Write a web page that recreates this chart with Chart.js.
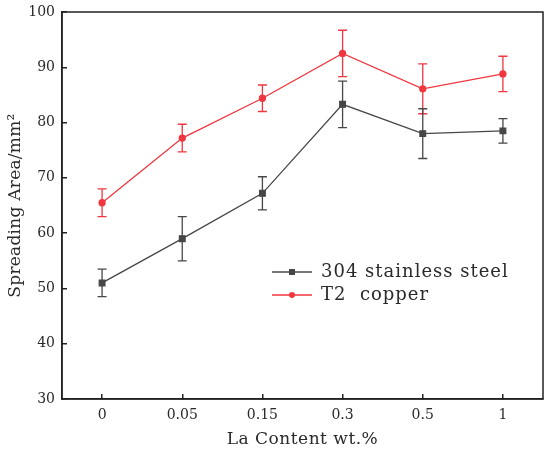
<!DOCTYPE html>
<html><head><meta charset="utf-8">
<script src="https://cdn.jsdelivr.net/npm/chart.js@4"></script>
<style>html,body{margin:0;padding:0;background:#fff;}</style>
</head><body>
<canvas id="c" width="550" height="456" style="width:550px;height:456px;display:block"></canvas>
<script>
const categories = ['0', '0.05', '0.15', '0.3', '0.5', '1'];
const steelValues = [51.0, 59.0, 67.2, 83.3, 78.0, 78.5];
const steelErrors = [2.5, 4.0, 3.0, 4.2, 4.5, 2.2];
const copperValues = [65.5, 77.2, 84.4, 92.5, 86.1, 88.8];
const copperErrors = [2.5, 2.5, 2.4, 4.2, 4.5, 3.2];
const yTicks = [30, 40, 50, 60, 70, 80, 90, 100];
const seriesLabels = ['304 stainless steel', 'T2  copper'];

const GRAY = '#474747';
const RED = '#f2363f';
const TEXT = '#2a2a2a';
const FONT = "'DejaVu Serif', serif";

function makeIcon(color, shape) {
  const c = document.createElement('canvas');
  c.width = 40; c.height = 10;
  const g = c.getContext('2d');
  g.strokeStyle = color; g.lineWidth = 1.3;
  g.beginPath(); g.moveTo(0, 5); g.lineTo(40, 5); g.stroke();
  g.fillStyle = color;
  if (shape === 'rect') { g.fillRect(17, 2, 6, 6); }
  else { g.beginPath(); g.arc(20, 5, 3, 0, Math.PI * 2); g.fill(); }
  return c;
}
const legendIcons = [makeIcon(GRAY, 'rect'), makeIcon(RED, 'circle')];

function spaced(obj, method, spacing) {
  if (obj['_sp_' + method]) return;
  const orig = obj[method];
  obj[method] = function () {
    const ctx = this.ctx;
    const prev = ctx.letterSpacing;
    ctx.letterSpacing = spacing;
    const r = orig.apply(this, arguments);
    ctx.letterSpacing = prev || '0px';
    return r;
  };
  obj['_sp_' + method] = true;
}

const errorBars = {
  id: 'errorBars',
  afterDatasetDraw(chart, args) {
    const ds = chart.data.datasets[args.index];
    const errs = ds.errors;
    if (!errs) return;
    const y = chart.scales.y;
    const ctx = chart.ctx;
    ctx.save();
    ctx.strokeStyle = ds.borderColor;
    ctx.lineWidth = 1.3;
    args.meta.data.forEach((pt, i) => {
      const v = ds.data[i];
      const yt = y.getPixelForValue(v + errs[i]);
      const yb = y.getPixelForValue(v - errs[i]);
      const x = pt.x;
      ctx.beginPath();
      ctx.moveTo(x, yt); ctx.lineTo(x, yb);
      ctx.moveTo(x - 4.5, yt); ctx.lineTo(x + 4.5, yt);
      ctx.moveTo(x - 4.5, yb); ctx.lineTo(x + 4.5, yb);
      ctx.stroke();
    });
    ctx.restore();
  }
};

const frame = {
  id: 'frame',
  afterDraw(chart) {
    const a = chart.chartArea, ctx = chart.ctx;
    ctx.save();
    ctx.strokeStyle = '#222';
    ctx.lineWidth = 1.5;
    ctx.strokeRect(a.left, a.top, a.right - a.left, a.bottom - a.top);
    ctx.restore();
  }
};

const legendPlace = {
  id: 'legendPlace',
  afterLayout(chart) {
    const lg = chart.legend;
    if (!lg) return;
    const a = chart.chartArea;
    const p = lg.options.labels.padding;
    const fs = lg.options.labels.font.size;
    lg.left = a.left + 210 - p;
    lg.top = a.top + 260 - fs / 2 - p;
    spaced(lg, 'draw', '1px');
    spaced(chart.scales.x, 'drawTitle', '0.5px');
    spaced(chart.scales.y, 'drawTitle', '0.25px');
  }
};

new Chart(document.getElementById('c'), {
  type: 'line',
  data: {
    labels: categories,
    datasets: [
      {
        label: seriesLabels[0], data: steelValues, errors: steelErrors,
        borderColor: GRAY, backgroundColor: GRAY, borderWidth: 1.3,
        pointStyle: 'rect', pointRadius: 4, pointHoverRadius: 4, tension: 0
      },
      {
        label: seriesLabels[1], data: copperValues, errors: copperErrors,
        borderColor: RED, backgroundColor: RED, borderWidth: 1.3,
        pointStyle: 'circle', pointRadius: 3, pointHoverRadius: 3, tension: 0
      }
    ]
  },
  options: {
    responsive: false,
    animation: false,
    devicePixelRatio: 1,
    layout: { padding: { top: 12, right: 7, left: 0, bottom: 0 } },
    plugins: {
      tooltip: { enabled: false },
      legend: {
        position: 'chartArea',
        align: 'start',
        labels: {
          usePointStyle: true,
          pointStyleWidth: 40,
          padding: 5,
          color: TEXT,
          font: { family: FONT, size: 18 },
          generateLabels: chart => chart.data.datasets.map((ds, i) => ({
            text: ds.label, pointStyle: legendIcons[i], fillStyle: ds.borderColor,
            strokeStyle: ds.borderColor, lineWidth: 0, hidden: false, datasetIndex: i, fontColor: TEXT
          }))
        }
      }
    },
    scales: {
      x: {
        type: 'category',
        offset: true,
        grid: { offset: false, drawOnChartArea: false, drawTicks: true, tickLength: -5, color: '#222', lineWidth: 1.5 },
        border: { color: '#222', width: 1.5 },
        ticks: { color: TEXT, font: { family: FONT, size: 14 }, padding: 13 },
        title: { display: true, text: 'La Content wt.%', color: TEXT, font: { family: FONT, size: 17 }, padding: { top: 0, bottom: 6 } },
        afterFit: s => { s.height = 57; s.paddingLeft = 0; s.paddingRight = 0; }
      },
      y: {
        min: 30, max: 100,
        afterBuildTicks: s => { s.ticks = yTicks.map(v => ({ value: v })); },
        grid: { drawOnChartArea: false, drawTicks: true, tickLength: -5, color: '#222', lineWidth: 1.5 },
        border: { color: '#222', width: 1.5 },
        ticks: { color: TEXT, font: { family: FONT, size: 14 }, padding: 12 },
        title: { display: true, text: 'Spreading Area/mm²', color: TEXT, font: { family: FONT, size: 17 }, padding: { top: 5, bottom: 0 } },
        afterFit: s => { s.width = 62; s.paddingTop = 0; s.paddingBottom = 0; }
      }
    }
  },
  plugins: [errorBars, frame, legendPlace]
});
</script>
</body></html>
